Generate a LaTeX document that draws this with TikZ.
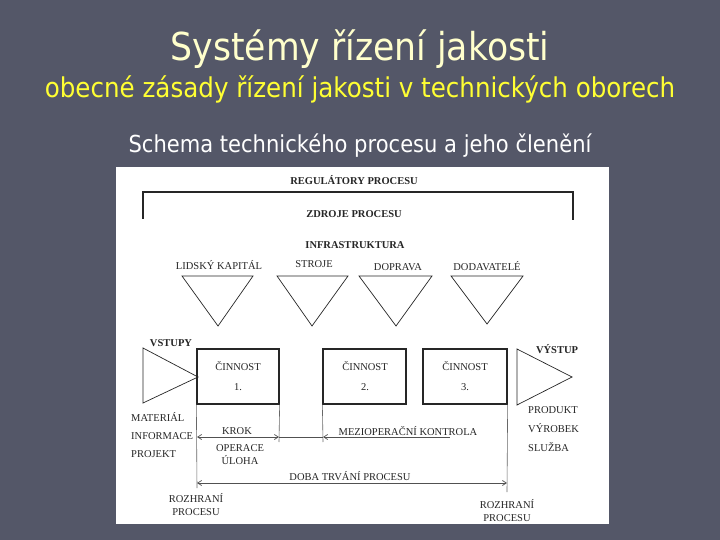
\documentclass[tikz,border=0pt]{standalone}
\usepackage{fontspec}
\setmainfont{Liberation Serif}
\newfontfamily\slidefont[FakeStretch=0.9]{DejaVu Sans}
\usetikzlibrary{arrows.meta}
\definecolor{slidebg}{HTML}{545768}
\definecolor{titleyellow}{HTML}{FFFFCC}
\definecolor{subyellow}{HTML}{FFFF33}
\definecolor{ink}{HTML}{262626}
\begin{document}
\begin{tikzpicture}[x=1bp,y=-1bp,
  >={Straight Barb[length=4bp,width=5bp]},
  diag/.style={inner sep=0pt, text=ink, font=\fontsize{10.5bp}{12bp}\selectfont},
  bdiag/.style={inner sep=0pt, text=ink, font=\fontsize{10.5bp}{12bp}\selectfont\bfseries},
  box/.style={draw=ink, line width=1.3bp, inner sep=0pt},
  tri/.style={draw=ink, line width=0.7bp},
  ext/.style={draw=ink!70, line width=0.6bp},
  dim/.style={draw=ink!80, line width=0.7bp}
]
\useasboundingbox (0,0) rectangle (720,540);
\fill[slidebg] (0,0) rectangle (720,540);

% titles
\node[anchor=base, inner sep=0pt, text=titleyellow, font=\slidefont\fontsize{38.5bp}{44bp}\selectfont] (title) at (360,61) {Systémy řízení jakosti};
\node[anchor=base, inner sep=0pt, text=subyellow, font=\slidefont\fontsize{27.3bp}{32bp}\selectfont] (subtitle) at (360,98) {obecné zásady řízení jakosti v technických oborech};
\node[anchor=base, inner sep=0pt, text=white, font=\slidefont\fontsize{23.4bp}{28bp}\selectfont] (schema) at (360,153) {Schema technického procesu a jeho členění};

% panel
\fill[white] (116,167) rectangle (609,524);

% top labels
\node[bdiag, anchor=base] (reg) at (354,185) {REGULÁTORY PROCESU};
\draw[line width=1.2bp, draw=ink] (143,219) -- (143,192) -- (573,192) -- (573,220);
\node[bdiag, anchor=base] (zdroje) at (354,218) {ZDROJE PROCESU};
\node[bdiag, anchor=base] (infra) at (355,249) {INFRASTRUKTURA};

% resources
\node[diag, anchor=base] (lk) at (219,270) {LIDSKÝ KAPITÁL};
\node[diag, anchor=base] (st) at (314,268) {STROJE};
\node[diag, anchor=base] (dop) at (398,271) {DOPRAVA};
\node[diag, anchor=base] (dod) at (487,271) {DODAVATELÉ};
\draw[tri] (182,276) -- (253,276) -- (218,326) -- cycle;
\draw[tri] (277,276) -- (348,276) -- (312,326) -- cycle;
\draw[tri] (359,276) -- (432,276) -- (396,326) -- cycle;
\draw[tri] (451,276) -- (523,276) -- (487,324) -- cycle;

% inputs / outputs
\node[bdiag, anchor=base] (vstupy) at (171,346) {VSTUPY};
\draw[tri] (143,348) -- (198,377) -- (143,403) -- cycle;
\node[bdiag, anchor=base] (vystup) at (557,353) {VÝSTUP};
\draw[tri] (517,349) -- (572,377) -- (517,405) -- cycle;

% activities
\node[box, minimum width=82bp, minimum height=55bp] (b1) at (238,376.5) {};
\node[box, minimum width=83bp, minimum height=55bp] (b2) at (364.5,376.5) {};
\node[box, minimum width=84bp, minimum height=55bp] (b3) at (465,376.5) {};
\node[diag, anchor=base] (c1) at (238,370) {ČINNOST};
\node[diag, anchor=base] (n1) at (238,390) {1.};
\node[diag, anchor=base] (c2) at (365,370) {ČINNOST};
\node[diag, anchor=base] (n2) at (365,390) {2.};
\node[diag, anchor=base] (c3) at (465,370) {ČINNOST};
\node[diag, anchor=base] (n3) at (465,390) {3.};

% extension lines
\coordinate (e1) at (197,488);
\coordinate (e2) at (279,442);
\coordinate (e3) at (323,442);
\coordinate (e4) at (507,492);
\draw[ext] (b1.south west) -- (e1);
\draw[ext] (b1.south east) -- (e2);
\draw[ext] (b2.south west) -- (e3);
\draw[ext] (b3.south east) -- (e4);

% dimension lines
\coordinate (k1) at (197,437);
\coordinate (k2) at (279,437);
\coordinate (m1) at (323,437);
\coordinate (m2) at (450,437);
\coordinate (d1) at (197,483);
\coordinate (d2) at (507,483);
\draw[dim, <->] (k1) -- (k2);
\draw[dim] (k2) -- (m1);
\draw[dim, <-] (m1) -- (m2);
\draw[dim, <->] (d1) -- (d2);

\node[diag, anchor=base] (krok) at (237,434) {KROK};
\node[diag, anchor=base] (oper) at (240,451) {OPERACE};
\node[diag, anchor=base] (uloha) at (240,464) {ÚLOHA};
\node[diag, anchor=base] (mezi) at (408,435) {MEZIOPERAČNÍ KONTROLA};
\node[diag, anchor=base] (doba) at (350,480) {DOBA TRVÁNÍ PROCESU};

% side labels
\node[diag, anchor=base west] (mat) at (131,421) {MATERIÁL};
\node[diag, anchor=base west] (inf) at (131,439) {INFORMACE};
\node[diag, anchor=base west] (proj) at (131,457) {PROJEKT};
\node[diag, anchor=base west] (prod) at (528,413) {PRODUKT};
\node[diag, anchor=base west] (vyr) at (528,432) {VÝROBEK};
\node[diag, anchor=base west] (sluz) at (528,451) {SLUŽBA};

% interfaces
\node[diag, anchor=base] (rl1) at (196,502) {ROZHRANÍ};
\node[diag, anchor=base] (rl2) at (196,515) {PROCESU};
\node[diag, anchor=base] (rr1) at (507,508) {ROZHRANÍ};
\node[diag, anchor=base] (rr2) at (507,521) {PROCESU};
\end{tikzpicture}
\end{document}
